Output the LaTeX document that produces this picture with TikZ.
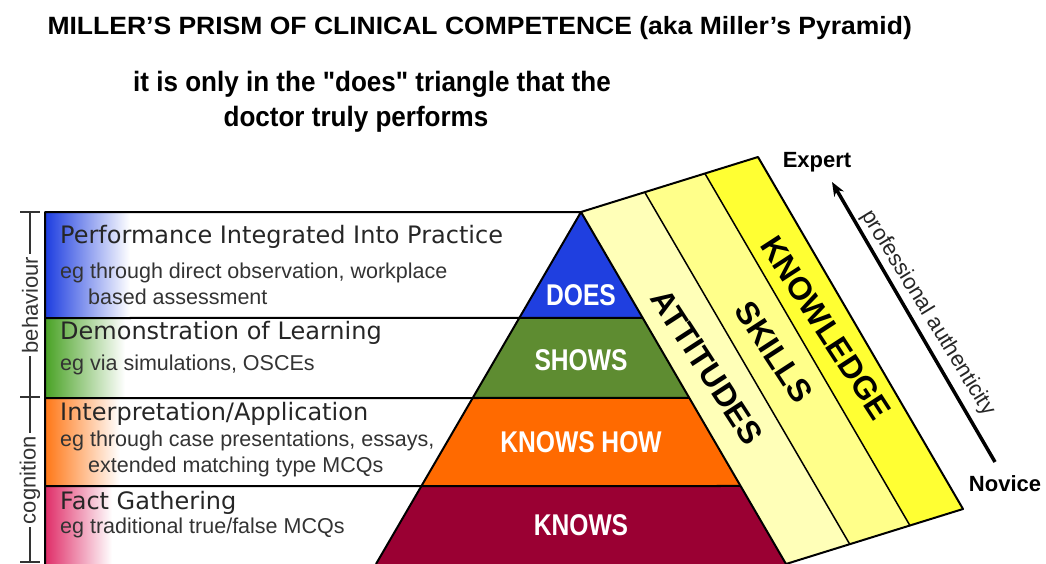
\documentclass[tikz,border=0pt]{standalone}
\usepackage{fontspec}
\setmainfont{Liberation Sans}
\newfontfamily\headfont{DejaVu Sans}
\newfontfamily\condfont[FakeStretch=0.82]{Liberation Sans}
\newfontfamily\titlefont[FakeStretch=1.06]{Liberation Sans}
\newfontfamily\subfont[FakeStretch=0.93, Ligatures=TeXOff]{Liberation Sans}
\usetikzlibrary{arrows.meta, positioning, calc}

\definecolor{doesblue}{HTML}{1F3FE0}
\definecolor{showsgreen}{HTML}{5E8C31}
\definecolor{howorange}{HTML}{FF6A00}
\definecolor{knowsred}{HTML}{9A0033}
\definecolor{factpink}{HTML}{E0306A}
\definecolor{attpale}{HTML}{FFFFB8}
\definecolor{skillyel}{HTML}{FFFF8A}
\definecolor{knowyel}{HTML}{FFFF33}

\begin{document}
\begin{tikzpicture}
  [
    x                 = 1pt,
    y                 = -1pt,
    outline/.style    = {draw, line width=2pt, line join=round},
    layer/.style      = {font=\condfont\bfseries\fontsize{30}{30}\selectfont, text=white},
    strip/.style      = {font=\bfseries\fontsize{32}{32}\selectfont, rotate=-57},
    heading/.style    = {anchor=west, inner sep=0pt, text=black!85,
                         font=\headfont\fontsize{24}{24}\selectfont},
    egtext/.style     = {anchor=west, align=left, inner sep=0pt, text=black!80,
                         font=\fontsize{21.5}{25.5}\selectfont},
    side/.style       = {rotate=90, fill=white, inner sep=3pt, text=black!80,
                         font=\fontsize{22}{22}\selectfont},
    level/.style      = {font=\bfseries\fontsize{22}{22}\selectfont}
  ]

  \useasboundingbox (0,0) rectangle (1046,564);

  \node[anchor=west, font=\titlefont\bfseries\fontsize{25}{25}\selectfont] (title) at (44,28)
    {MILLER’S PRISM OF CLINICAL COMPETENCE (aka Miller’s Pyramid)};
  \node[align=center, font=\subfont\bfseries\fontsize{28}{35}\selectfont] (subtitle) at (372,102)
    {it is only in the "does" triangle that the\\\hspace*{-32pt}doctor truly performs};

  \coordinate (apex) at (581,212);
  \coordinate (bl) at (376,564);
  \coordinate (br) at (786,564);
  \foreach \name/\f in {a/0.3011, b/0.5284, c/0.7784} {
    \coordinate (l\name) at ($(apex)!\f!(bl)$);
    \coordinate (r\name) at ($(apex)!\f!(br)$);
  }

  \shade[left color=doesblue, middle color=cyan!60!blue!70, right color=white] (46,213) rectangle (130,318);
  \shade[left color=showsgreen!80!green, right color=white] (46,318) rectangle (125,398);
  \shade[left color=howorange!90, middle color=orange!40!yellow!70, right color=white] (46,398) rectangle (120,486);
  \shade[left color=factpink, right color=white] (46,486) rectangle (112,564);

  \fill[doesblue] (apex) -- (ra) -- (la) -- cycle;
  \fill[showsgreen] (la) -- (ra) -- (rb) -- (lb) -- cycle;
  \fill[howorange] (lb) -- (rb) -- (rc) -- (lc) -- cycle;
  \fill[knowsred] (lc) -- (rc) -- (br) -- (bl) -- cycle;

  \coordinate (t3) at ($(apex)+(177,-55)$);
  \coordinate (b3) at ($(br)+(177,-55)$);
  \foreach \name/\f in {1/0.36, 2/0.70} {
    \coordinate (t\name) at ($(apex)!\f!(t3)$);
    \coordinate (b\name) at ($(br)!\f!(b3)$);
  }
  \fill[attpale] (apex) -- (t1) -- (b1) -- (br) -- cycle;
  \fill[skillyel] (t1) -- (t2) -- (b2) -- (b1) -- cycle;
  \fill[knowyel] (t2) -- (t3) -- (b3) -- (b2) -- cycle;

  \draw[outline] (45,564) -- (45,212) -- (apex) -- (bl);
  \draw[outline] (45,318) -- (ra) (45,398) -- (rb) (45,486) -- (rc);
  \draw[outline] (apex) -- (t3) -- (b3) -- (br) -- cycle;
  \draw[outline, line width=1.5pt] (t1) -- (b1) (t2) -- (b2);

  \node[layer] (does) at (581,295) {DOES};
  \node[layer] (shows) at (581,360) {SHOWS};
  \node[layer] (knowshow) at (581,442) {KNOWS HOW};
  \node[layer] (knows) at (581,525) {KNOWS};

  \node[strip] (attitudes) at (707,367) {ATTITUDES};
  \node[strip] (skills) at (774,352) {SKILLS};
  \node[strip] (knowledge) at (826,328) {KNOWLEDGE};

  \node[level] (expert) at (817,162) {Expert};
  \node[level] (novice) at (1005,484) {Novice};
  \coordinate (lowend) at (995,462);
  \coordinate (highend) at (832,182);
  \draw[-{Stealth[length=14pt, width=11pt]}, line width=3.5pt] (lowend) -- (highend);
  \node[rotate=-58.5, text=black!85, font=\fontsize{22}{22}\selectfont] (authentic) at (928,313)
    {professional authenticity};

  \node[heading] (perf) at (60,237) {Performance Integrated Into Practice};
  \node[egtext] (perfeg) at (60,284) {eg through direct observation, workplace\\\hspace*{28pt}based assessment};
  \node[heading] (demo) at (60,333) {Demonstration of Learning};
  \node[egtext] (demoeg) at (60,365) {eg via simulations, OSCEs};
  \node[heading] (interp) at (60,414) {Interpretation/Application};
  \node[egtext] (interpeg) at (60,454) {eg through case presentations, essays,\\\hspace*{28pt}extended matching type MCQs};
  \node[heading] (fact) at (60,503) {Fact Gathering};
  \node[egtext] (facteg) at (60,528) {eg traditional true/false MCQs};

  \draw[line width=1.5pt, black!80] (30,212) -- (30,562);
  \draw[line width=1.5pt, black!80] (20,212) -- (40,212) (20,397) -- (40,397) (20,562) -- (40,562);
  \node[side] (behaviour) at (30,305) {behaviour};
  \node[side] (cognition) at (30,480) {cognition};
\end{tikzpicture}
\end{document}
